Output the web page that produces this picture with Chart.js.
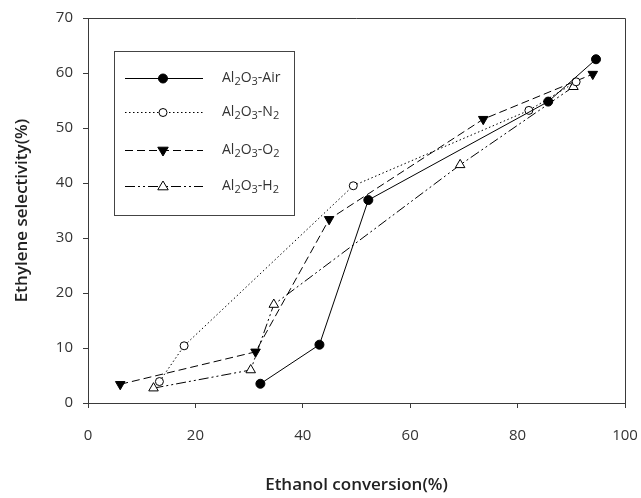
<!DOCTYPE html>
<html>
<head>
<meta charset="utf-8">
<script src="https://cdn.jsdelivr.net/npm/chart.js@4"></script>
<style>
  html, body { margin: 0; padding: 0; background: #fff; }
  #chart { display: block; }
</style>
</head>
<body>
<canvas id="chart" width="641" height="498"></canvas>
<script>
// data
const airX = [32.1, 43.1, 52.2, 85.7, 94.6];
const airY = [3.5, 10.6, 36.9, 54.8, 62.5];
const n2X = [13.3, 17.9, 49.4, 82.1, 90.9];
const n2Y = [3.9, 10.4, 39.5, 53.2, 58.4];
const o2X = [6.0, 31.2, 44.9, 73.6, 94.0];
const o2Y = [3.4, 9.3, 33.4, 51.6, 59.8];
const h2X = [12.2, 30.3, 34.6, 69.3, 90.4];
const h2Y = [2.7, 6.0, 17.9, 43.3, 57.5];
const xTicks = [0, 20, 40, 60, 80, 100];
const yTicks = [0, 10, 20, 30, 40, 50, 60, 70];
const seriesNames = ['Air', 'N', 'O', 'H'];
const seriesSubs = ['', '2', '2', '2'];

const FONT = "'Open Sans', 'Noto Sans', sans-serif";
const AXIS = '#3a3a3a';

function pts(xs, ys){ return xs.map((x, i) => ({ x: x, y: ys[i] })); }

const styles = [
  { dash: [], pointStyle: 'circle', rotation: 0, fill: '#000', radius: 4.5 },
  { dash: [1.5, 2.5], pointStyle: 'circle', rotation: 0, fill: '#fff', radius: 4 },
  { dash: [8, 4], pointStyle: 'triangle', rotation: 180, fill: '#000', radius: 5.5 },
  { dash: [10, 3, 2, 3, 2, 3], pointStyle: 'triangle', rotation: 0, fill: '#fff', radius: 5.5 }
];
const seriesData = [pts(airX, airY), pts(n2X, n2Y), pts(o2X, o2Y), pts(h2X, h2Y)];

const datasets = seriesData.map((d, i) => ({
  label: 'Al2O3-' + seriesNames[i] + seriesSubs[i],
  data: d,
  showLine: true,
  borderColor: '#000',
  borderWidth: 1,
  borderDash: styles[i].dash,
  pointStyle: styles[i].pointStyle,
  rotation: styles[i].rotation,
  pointRadius: styles[i].radius,
  pointBackgroundColor: styles[i].fill,
  pointBorderColor: '#000',
  pointBorderWidth: 1
}));

// frame (top + right) and legend box
const extras = {
  id: 'extras',
  afterDraw(chart){
    const ctx = chart.ctx, a = chart.chartArea;
    ctx.save();
    ctx.strokeStyle = AXIS;
    ctx.lineWidth = 1;
    ctx.beginPath();
    ctx.moveTo(a.left, a.top + 0.5); ctx.lineTo(a.right + 0.5, a.top + 0.5);
    ctx.lineTo(a.right + 0.5, a.bottom);
    ctx.stroke();

    // legend
    const bx = 114, by = 51, bw = 180, bh = 164;
    ctx.strokeStyle = '#444';
    ctx.strokeRect(bx + 0.5, by + 0.5, bw, bh);
    const rows = [78, 112, 150, 186];
    rows.forEach((ry, i) => {
      const st = styles[i];
      ctx.strokeStyle = '#000';
      ctx.setLineDash(st.dash);
      ctx.beginPath();
      ctx.moveTo(125, ry + 0.5); ctx.lineTo(203, ry + 0.5);
      ctx.stroke();
      ctx.setLineDash([]);
      drawMarker(ctx, 163, ry + 0.5, st);
      // label with subscripts
      ctx.fillStyle = '#333';
      ctx.textBaseline = 'middle';
      ctx.textAlign = 'left';
      let x = 222;
      const parts = [['Al', 0], ['2', 1], ['O', 0], ['3', 1], ['-' + seriesNames[i], 0]];
      if (seriesSubs[i]) parts.push([seriesSubs[i], 1]);
      parts.forEach(([t, sub]) => {
        ctx.font = (sub ? '11px ' : '14px ') + FONT;
        ctx.fillText(t, x, ry + (sub ? 4 : 0));
        x += ctx.measureText(t).width;
      });
    });
    ctx.restore();
  }
};

function drawMarker(ctx, x, y, st){
  ctx.fillStyle = st.fill;
  ctx.strokeStyle = '#000';
  ctx.beginPath();
  if (st.pointStyle === 'circle') {
    ctx.arc(x, y, st.radius, 0, Math.PI * 2);
  } else {
    const r = st.radius, s = st.rotation ? -1 : 1;
    ctx.moveTo(x, y - s * r);
    ctx.lineTo(x - r * 0.95, y + s * r * 0.6);
    ctx.lineTo(x + r * 0.95, y + s * r * 0.6);
    ctx.closePath();
  }
  ctx.fill();
  ctx.stroke();
}

new Chart(document.getElementById('chart'), {
  type: 'scatter',
  data: { datasets: datasets },
  plugins: [extras],
  options: {
    responsive: false,
    devicePixelRatio: 1,
    animation: false,
    layout: { padding: { top: 18, right: 16, left: 0, bottom: 0 } },
    plugins: { legend: { display: false }, tooltip: { enabled: false } },
    scales: {
      x: {
        type: 'linear', min: 0, max: 100,
        afterFit: s => { s.height = 95; s.paddingLeft = 0; s.paddingRight = 0; },
        afterBuildTicks: s => { s.ticks = xTicks.map(v => ({ value: v })); },
        grid: { drawOnChartArea: false, tickLength: 5, color: AXIS },
        border: { color: AXIS },
        ticks: { color: '#333', font: { family: FONT, size: 15 }, padding: 19, maxRotation: 0 },
        title: { display: true, text: 'Ethanol conversion(%)', color: '#222',
                 font: { family: FONT, size: 17, weight: '600' }, padding: { top: 0, bottom: 3 } }
      },
      y: {
        type: 'linear', min: 0, max: 70,
        afterFit: s => { s.width = 88; s.paddingTop = 0; s.paddingBottom = 0; },
        afterBuildTicks: s => { s.ticks = yTicks.map(v => ({ value: v })); },
        grid: { drawOnChartArea: false, tickLength: 5, color: AXIS },
        border: { color: AXIS },
        ticks: { color: '#333', font: { family: FONT, size: 15 }, padding: 10 },
        title: { display: true, text: 'Ethylene selectivity(%)', color: '#222',
                 font: { family: FONT, size: 17, weight: '600' }, padding: { top: 12, bottom: 0 } }
      }
    }
  }
});
</script>
</body>
</html>
